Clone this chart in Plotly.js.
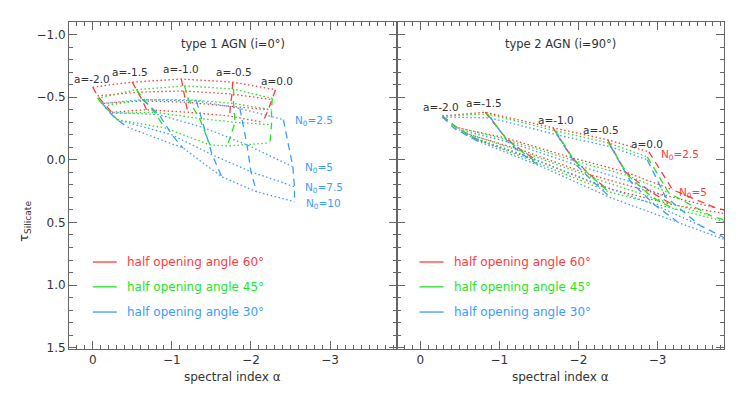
<!DOCTYPE html>
<html>
<head>
<meta charset="utf-8">
<script src="https://cdn.plot.ly/plotly-3.0.1.min.js"></script>
<style>
  html, body { margin: 0; padding: 0; background: #fff; }
  #plot { width: 747px; height: 394px; }
</style>
</head>
<body>
<div id="plot"></div>
<script>
// model grid: rows = N0 (2.5, 5, 7.5, 10), columns = a (-2.0 ... 0.0)
var aValues = [-2.0, -1.5, -1.0, -0.5, 0.0];
var n0Values = [2.5, 5, 7.5, 10];

// type 1 AGN (i=0)
var t1_60_x = [[0.00, -0.50, -1.12, -1.77, -2.31], [-0.06, -0.57, -1.15, -1.76, -2.27], [-0.14, -0.63, -1.17, -1.74, -2.22], [-0.24, -0.68, -1.20, -1.73, -2.15]];
var t1_60_y = [[-0.58, -0.62, -0.645, -0.62, -0.56], [-0.51, -0.54, -0.55, -0.525, -0.48], [-0.45, -0.47, -0.46, -0.43, -0.40], [-0.38, -0.40, -0.38, -0.35, -0.30]];
var t1_45_x = [[-0.06, -0.55, -1.16, -1.78, -2.27], [-0.14, -0.65, -1.21, -1.78, -2.26], [-0.24, -0.78, -1.35, -1.80, -2.26], [-0.31, -0.91, -1.48, -1.70, -2.24]];
var t1_45_y = [[-0.49, -0.56, -0.59, -0.565, -0.49], [-0.43, -0.48, -0.48, -0.45, -0.40], [-0.37, -0.38, -0.33, -0.30, -0.28], [-0.32, -0.255, -0.12, -0.11, -0.135]];
var t1_30_x = [[-0.12, -0.63, -1.31, -1.86, -2.41], [-0.21, -0.84, -1.41, -1.95, -2.53], [-0.31, -1.00, -1.51, -2.00, -2.55], [-0.44, -1.14, -1.63, -2.07, -2.55]];
var t1_30_y = [[-0.45, -0.48, -0.47, -0.41, -0.32], [-0.38, -0.36, -0.255, -0.12, 0.056], [-0.32, -0.20, -0.04, 0.095, 0.215], [-0.26, -0.095, 0.135, 0.255, 0.334]];

// type 2 AGN (i=90)
var t2_60_x = [[-0.28, -0.82, -1.68, -2.37, -2.89], [-0.47, -1.08, -1.92, -2.59, -3.19], [-0.59, -1.27, -2.15, -2.91, -3.73], [-0.72, -1.46, -2.34, -3.19, -4.30]];
var t2_60_y = [[-0.35, -0.38, -0.255, -0.16, -0.064], [-0.255, -0.175, -0.016, 0.096, 0.239], [-0.207, -0.08, 0.119, 0.255, 0.382], [-0.159, 0.0, 0.223, 0.358, 0.478]];
var t2_45_x = [[-0.28, -0.85, -1.71, -2.38, -2.87], [-0.44, -1.10, -1.95, -2.63, -3.14], [-0.57, -1.29, -2.18, -2.94, -3.67], [-0.71, -1.48, -2.38, -3.23, -4.24]];
var t2_45_y = [[-0.35, -0.366, -0.231, -0.135, -0.024], [-0.263, -0.159, 0.008, 0.127, 0.263], [-0.215, -0.064, 0.143, 0.303, 0.446], [-0.167, 0.024, 0.255, 0.398, 0.557]];
var t2_30_x = [[-0.28, -0.89, -1.73, -2.41, -2.87], [-0.44, -1.11, -1.97, -2.66, -3.10], [-0.58, -1.30, -2.20, -2.96, -3.54], [-0.72, -1.51, -2.41, -3.25, -3.99]];
var t2_30_y = [[-0.342, -0.334, -0.199, -0.104, 0.0], [-0.247, -0.143, 0.040, 0.175, 0.295], [-0.199, -0.040, 0.183, 0.358, 0.525], [-0.151, 0.048, 0.303, 0.494, 0.669]];

var angles = [60, 45, 30];
var red = '#ff3b3b', green = '#22e622', blue = '#3d9bff';
var colors = {60: red, 45: green, 30: blue};
var textCol = '#333333';
var axCol = '#666666';
var fontFam = 'DejaVu Sans, Liberation Sans, sans-serif';

var data = [];

function addGrid(xs, ys, color, xa, ya) {
    // dotted: constant N0
    for (var i = 0; i < xs.length; i++) {
        data.push({x: xs[i], y: ys[i], xaxis: xa, yaxis: ya, mode: 'lines', hoverinfo: 'skip',
            showlegend: false, line: {color: color, width: 1.3, dash: '1.5px,2.5px'}});
    }
    // dashed: constant a
    for (var j = 0; j < aValues.length; j++) {
        data.push({x: xs.map(function (r) { return r[j]; }), y: ys.map(function (r) { return r[j]; }),
            xaxis: xa, yaxis: ya, mode: 'lines', hoverinfo: 'skip', showlegend: false,
            line: {color: color, width: 1.3, dash: '7px,5px'}});
    }
}

addGrid(t1_60_x, t1_60_y, red, 'x', 'y');
addGrid(t1_45_x, t1_45_y, green, 'x', 'y');
addGrid(t1_30_x, t1_30_y, blue, 'x', 'y');
addGrid(t2_60_x, t2_60_y, red, 'x2', 'y2');
addGrid(t2_45_x, t2_45_y, green, 'x2', 'y2');
addGrid(t2_30_x, t2_30_y, blue, 'x2', 'y2');

function xAxis(domain, anchor) {
    return {
        domain: domain, anchor: anchor, range: [0.3, -3.84],
        dtick: 1, tick0: 0, ticks: 'inside', ticklen: 8, tickcolor: axCol,
        minor: {dtick: 0.1, ticks: 'inside', ticklen: 4, tickcolor: axCol},
        showline: true, linecolor: axCol, linewidth: 1, mirror: 'allticks',
        showgrid: false, zeroline: false,
        tickfont: {family: fontFam, size: 12, color: textCol}
    };
}
function yAxis(anchor, labels) {
    return {
        anchor: anchor, domain: [0, 1], range: [1.51, -1.1],
        dtick: 0.5, tick0: 0, tickformat: '.1f', ticks: 'inside', ticklen: 8, tickcolor: axCol,
        minor: {dtick: 0.1, ticks: 'inside', ticklen: 4, tickcolor: axCol},
        showline: true, linecolor: axCol, linewidth: 1, mirror: 'allticks',
        showgrid: false, zeroline: false, showticklabels: labels,
        tickfont: {family: fontFam, size: 12, color: textCol}
    };
}

var annotations = [];
function label(text, x, y, xa, ya, color, anchor, size) {
    annotations.push({text: text, x: x, y: y, xref: xa, yref: ya, showarrow: false,
        xanchor: anchor || 'center', yanchor: 'middle',
        font: {family: fontFam, size: size || 10.5, color: color || textCol}});
}

// a labels
var t1_aLabelX = [0.01, -0.47, -1.12, -1.79, -2.33];
var t1_aLabelY = [-0.645, -0.70, -0.725, -0.70, -0.63];
var t2_aLabelX = [-0.26, -0.81, -1.72, -2.28, -2.87];
var t2_aLabelY = [-0.42, -0.45, -0.32, -0.24, -0.13];
aValues.forEach(function (a, j) {
    var s = 'a=' + (a === 0 ? '0.0' : a.toFixed(1));
    label(s, t1_aLabelX[j], t1_aLabelY[j], 'x', 'y');
    label(s, t2_aLabelX[j], t2_aLabelY[j], 'x2', 'y2');
});

// N0 labels
var t1_nLabelX = [-2.53, -2.66, -2.66, -2.67];
var t1_nLabelY = [-0.31, 0.064, 0.223, 0.35];
n0Values.forEach(function (n, i) {
    label('N<sub>0</sub>=' + n, t1_nLabelX[i], t1_nLabelY[i], 'x', 'y', blue, 'left');
});
label('N<sub>0</sub>=2.5', -3.02, -0.04, 'x2', 'y2', red, 'left');
label('N<sub>0</sub>=5', -3.24, 0.263, 'x2', 'y2', red, 'left');

// panel titles
label('type 1 AGN (i=0°)', 0.5, 0.933, 'x domain', 'y domain', textCol, 'center', 11.5);
label('type 2 AGN (i=90°)', 0.5, 0.933, 'x2 domain', 'y2 domain', textCol, 'center', 11.5);

// axis titles
label('spectral index α', 0.5, -0.086, 'x domain', 'paper', textCol, 'center', 12);
label('spectral index α', 0.5, -0.086, 'x2 domain', 'paper', textCol, 'center', 12);
annotations.push({text: 'τ<sub>Silicate</sub>', x: -0.068, y: 0.39, xref: 'paper', yref: 'paper',
    showarrow: false, textangle: -90, xanchor: 'center', yanchor: 'middle',
    font: {family: fontFam, size: 13, color: textCol}});

// legend
var shapes = [];
var legendY = [0.266, 0.190, 0.113];
angles.forEach(function (ang, k) {
    [['x', 'y', 0.073, 0.146, 0.171], ['x2', 'y2', 0.070, 0.144, 0.168]].forEach(function (p) {
        shapes.push({type: 'line', xref: p[0] + ' domain', yref: p[1] + ' domain',
            x0: p[2], x1: p[3], y0: legendY[k], y1: legendY[k],
            line: {color: colors[ang], width: 1.3}});
        label('half opening angle ' + ang + '°', p[4], legendY[k], p[0] + ' domain', p[1] + ' domain',
            colors[ang], 'left', 12);
    });
});

var layout = {
    width: 747, height: 394,
    margin: {l: 69, r: 23, t: 22, b: 45},
    paper_bgcolor: '#ffffff', plot_bgcolor: '#ffffff',
    showlegend: false,
    xaxis: xAxis([0, 0.5], 'y'),
    yaxis: yAxis('x', true),
    xaxis2: xAxis([0.5, 1], 'y2'),
    yaxis2: yAxis('x2', false),
    annotations: annotations,
    shapes: shapes,
    font: {family: fontFam, color: textCol}
};

Plotly.newPlot('plot', data, layout, {displayModeBar: false, staticPlot: true});
</script>
</body>
</html>
